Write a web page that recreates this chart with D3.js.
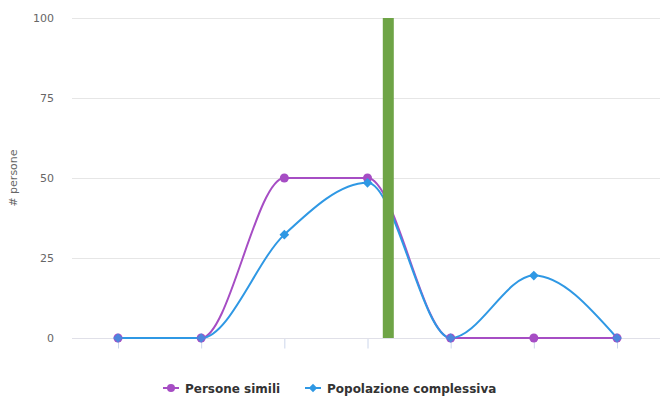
<!DOCTYPE html>
<html>
<head>
<meta charset="utf-8">
<script src="https://cdn.jsdelivr.net/npm/d3@7"></script>
<style>
  html, body { margin: 0; padding: 0; background: #fff; }
  svg { display: block; font-family: "DejaVu Sans", "Open Sans", sans-serif; }
</style>
</head>
<body>
<svg id="chart" width="662" height="399"></svg>
<script>
// Distribution of people across the seven bins
const categories = [0, 1, 2, 3, 4, 5, 6];
const personeSimili = [0, 0, 50, 50, 0, 0, 0];
const popolazioneComplessiva = [0, 0, 32.3, 48.5, 0, 19.5, 0];
const yTicks = [0, 25, 50, 75, 100];
const seriesNames = ["Persone simili", "Popolazione complessiva"];
// Current position marker (in bin units) and its height
const markerPosition = 3.25;
const markerValue = 100;

const svg = d3.select("#chart");
const plotLeft = 72, plotRight = 660, plotTop = 18, plotBottom = 338;

const x = d3.scaleLinear().domain([0, 6]).range([118, 617]);
const y = d3.scaleLinear().domain([0, 100]).range([plotBottom, plotTop]);

const purple = "#a64dc4";
const blue = "#2f98e4";
const green = "#6ea446";

// gridlines
svg.append("g")
  .selectAll("line")
  .data(yTicks)
  .join("line")
  .attr("x1", plotLeft).attr("x2", plotRight)
  .attr("y1", d => y(d) + 0.5).attr("y2", d => y(d) + 0.5)
  .attr("stroke", "#e6e6e6").attr("stroke-width", 1);

// y-axis labels
svg.append("g")
  .selectAll("text")
  .data(yTicks)
  .join("text")
  .attr("x", 54)
  .attr("y", d => y(d) + 4)
  .attr("text-anchor", "end")
  .attr("font-size", 11)
  .attr("fill", "#666")
  .text(d => d);

// y-axis title
svg.append("text")
  .attr("transform", `translate(17, ${(plotTop + plotBottom) / 2}) rotate(-90)`)
  .attr("text-anchor", "middle")
  .attr("font-size", 11)
  .attr("fill", "#666")
  .text("# persone");

// x axis: baseline and ticks
const xAxis = d3.axisBottom(x).tickValues(categories).tickSize(10).tickFormat("");
const gx = svg.append("g")
  .attr("transform", `translate(0, ${plotBottom + 0.5})`)
  .call(xAxis);
gx.select(".domain").remove();
gx.selectAll(".tick line").attr("stroke", "#ccd6eb");
svg.append("line")
  .attr("x1", plotLeft).attr("x2", plotRight)
  .attr("y1", plotBottom + 0.5).attr("y2", plotBottom + 0.5)
  .attr("stroke", "#e0e0e8");

const line = d3.line()
  .x((d, i) => x(categories[i]))
  .y(d => y(d))
  .curve(d3.curveMonotoneX);

// series lines
svg.append("path")
  .datum(personeSimili)
  .attr("d", line)
  .attr("fill", "none")
  .attr("stroke", purple)
  .attr("stroke-width", 2);

svg.append("path")
  .datum(popolazioneComplessiva)
  .attr("d", line)
  .attr("fill", "none")
  .attr("stroke", blue)
  .attr("stroke-width", 2);

// markers
svg.append("g")
  .selectAll("circle")
  .data(personeSimili)
  .join("circle")
  .attr("cx", (d, i) => x(categories[i]))
  .attr("cy", d => y(d))
  .attr("r", 4.5)
  .attr("fill", purple);

const diamond = d3.symbol().type(d3.symbolDiamond2).size(60);
svg.append("g")
  .selectAll("path")
  .data(popolazioneComplessiva)
  .join("path")
  .attr("transform", (d, i) => `translate(${x(categories[i])}, ${y(d)})`)
  .attr("d", diamond)
  .attr("fill", blue)
  .attr("opacity", (d, i) => personeSimili[i] === d ? 0.75 : 1);

// current position bar
const barWidth = 11;
svg.append("rect")
  .attr("x", x(markerPosition) - barWidth / 2)
  .attr("y", y(markerValue))
  .attr("width", barWidth)
  .attr("height", y(0) - y(markerValue))
  .attr("fill", green);

// legend
const legend = svg.append("g").attr("transform", "translate(0, 388)");
const legendItems = [
  { name: seriesNames[0], color: purple, x: 163, shape: "circle" },
  { name: seriesNames[1], color: blue, x: 305, shape: "diamond" }
];
legendItems.forEach(it => {
  const g = legend.append("g").attr("transform", `translate(${it.x}, 0)`);
  g.append("line").attr("x1", 0).attr("x2", 16).attr("y1", 0).attr("y2", 0)
    .attr("stroke", it.color).attr("stroke-width", 2);
  if (it.shape === "circle") {
    g.append("circle").attr("cx", 8).attr("cy", 0).attr("r", 4).attr("fill", it.color);
  } else {
    g.append("path").attr("transform", "translate(8,0)")
      .attr("d", d3.symbol().type(d3.symbolDiamond2).size(45)).attr("fill", it.color);
  }
  g.append("text").attr("x", 22).attr("y", 4.5)
    .attr("font-size", 12).attr("font-weight", "bold").attr("fill", "#333")
    .text(it.name);
});
</script>
</body>
</html>
